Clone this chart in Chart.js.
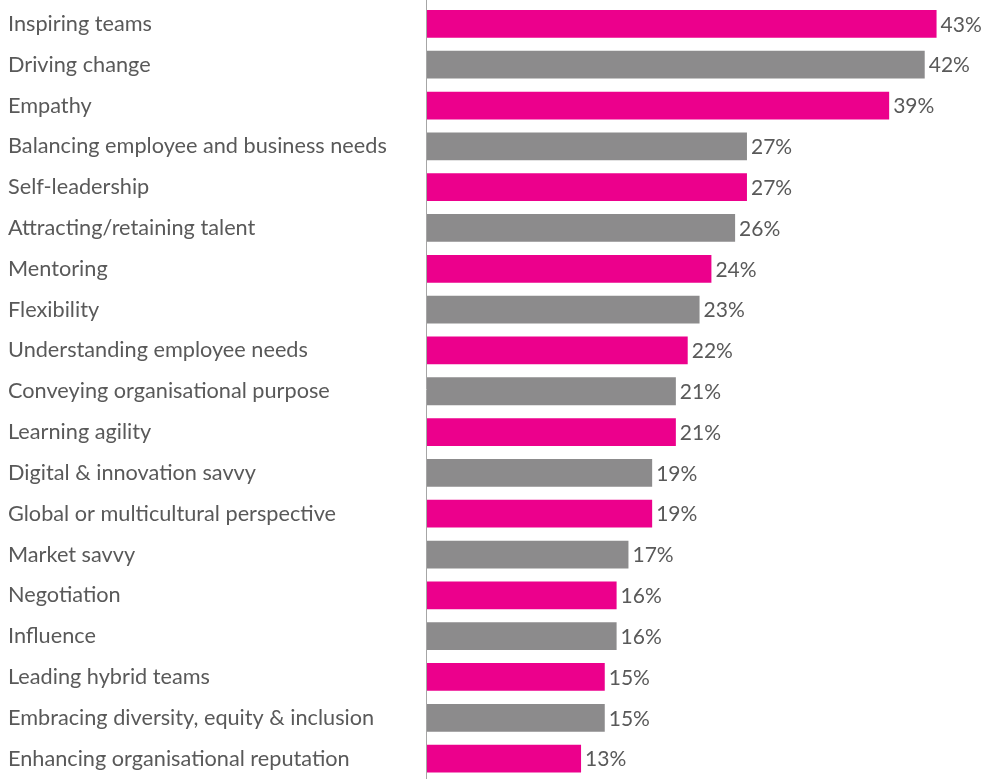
<!DOCTYPE html>
<html>
<head>
<meta charset="utf-8">
<script src="https://cdn.jsdelivr.net/npm/chart.js@4"></script>
<style>
  html, body { margin: 0; padding: 0; background: #ffffff; overflow: hidden; }
  #wrap { width: 981px; height: 779px; position: relative; }
</style>
</head>
<body>
<div id="wrap"><canvas id="chart"></canvas></div>
<script>
// Leadership skills and share of respondents (%)
const skills = [
  'Inspiring teams',
  'Driving change',
  'Empathy',
  'Balancing employee and business needs',
  'Self-leadership',
  'Attracting/retaining talent',
  'Mentoring',
  'Flexibility',
  'Understanding employee needs',
  'Conveying organisational purpose',
  'Learning agility',
  'Digital & innovation savvy',
  'Global or multicultural perspective',
  'Market savvy',
  'Negotiation',
  'Influence',
  'Leading hybrid teams',
  'Embracing diversity, equity & inclusion',
  'Enhancing organisational reputation'
];
const shares = [43, 42, 39, 27, 27, 26, 24, 23, 22, 21, 21, 19, 19, 17, 16, 16, 15, 15, 13];
const palette = ['#EC008C', '#8C8B8C'];

const FONT = 'Lato, "Open Sans", sans-serif';
const TEXT_COLOR = '#595959';

// Writes "NN%" just past the end of every bar
const valueLabels = {
  id: 'valueLabels',
  afterDatasetsDraw(chart) {
    const ctx = chart.ctx;
    const meta = chart.getDatasetMeta(0);
    ctx.save();
    ctx.font = '21px ' + FONT;
    ctx.fillStyle = TEXT_COLOR;
    ctx.textAlign = 'left';
    ctx.textBaseline = 'middle';
    meta.data.forEach((bar, i) => {
      ctx.fillText(shares[i] + '%', bar.x + 4, bar.y + 1);
    });
    ctx.restore();
  }
};

// Vertical baseline running the full height of the canvas
const baseline = {
  id: 'baseline',
  afterDraw(chart) {
    const ctx = chart.ctx;
    const x = chart.chartArea.left;
    ctx.save();
    ctx.strokeStyle = '#a6a6a6';
    ctx.lineWidth = 1;
    ctx.beginPath();
    ctx.moveTo(Math.round(x) - 0.5, 0);
    ctx.lineTo(Math.round(x) - 0.5, chart.height);
    ctx.stroke();
    ctx.restore();
  }
};

new Chart(document.getElementById('chart'), {
  type: 'bar',
  data: {
    labels: skills,
    datasets: [{
      data: shares,
      backgroundColor: shares.map((_, i) => palette[i % 2]),
      borderWidth: 0,
      barPercentage: 0.68,
      categoryPercentage: 1
    }]
  },
  options: {
    indexAxis: 'y',
    responsive: true,
    maintainAspectRatio: false,
    animation: false,
    layout: { padding: { left: 8, right: 0, top: 3.5, bottom: 0 } },
    plugins: {
      legend: { display: false },
      tooltip: { enabled: false }
    },
    scales: {
      x: {
        min: 0,
        max: 46.75,
        display: false,
        grid: { display: false }
      },
      y: {
        grid: { display: false, drawTicks: false },
        border: { display: false },
        ticks: {
          crossAlign: 'far',
          padding: 0,
          color: TEXT_COLOR,
          font: { family: FONT, size: 21.7 }
        },
        afterFit(scale) {
          scale.width = 419;
          scale.paddingTop = 0;
          scale.paddingBottom = 0;
        }
      }
    }
  },
  plugins: [valueLabels, baseline]
});
</script>
</body>
</html>
